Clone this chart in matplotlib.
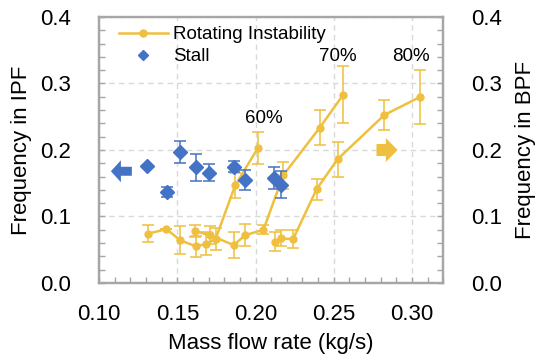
import matplotlib.pyplot as plt
import matplotlib.patches as mpatches
from matplotlib.lines import Line2D
from matplotlib.ticker import MultipleLocator

plt.rcParams['font.family'] = ['Liberation Sans', 'DejaVu Sans']

# Rotating instability, 60% speed line
ri60_x = [0.131, 0.143, 0.152, 0.162, 0.1686, 0.1744, 0.187, 0.2015]
ri60_y = [0.074, 0.081, 0.064, 0.055, 0.059, 0.066, 0.147, 0.203]
ri60_e = [0.013, 0.0, 0.021, 0.016, 0.017, 0.016, 0.019, 0.024]

# Rotating instability, 70% speed line
ri70_x = [0.1612, 0.1707, 0.186, 0.1934, 0.205, 0.2177, 0.241, 0.256]
ri70_y = [0.078, 0.072, 0.057, 0.072, 0.080, 0.162, 0.2335, 0.283]
ri70_e = [0.009, 0.014, 0.019, 0.017, 0.007, 0.020, 0.026, 0.043]

# Rotating instability, 80% speed line
ri80_x = [0.2125, 0.216, 0.224, 0.239, 0.2524, 0.2823, 0.3053]
ri80_y = [0.062, 0.067, 0.066, 0.141, 0.186, 0.2526, 0.280]
ri80_e = [0.014, 0.012, 0.013, 0.016, 0.026, 0.023, 0.041]

# Stall
stall_x = [0.1306, 0.1434, 0.1515, 0.1618, 0.170, 0.186, 0.193, 0.2117, 0.216]
stall_y = [0.1765, 0.137, 0.197, 0.174, 0.166, 0.175, 0.155, 0.158, 0.148]
stall_e = [0.0, 0.008, 0.017, 0.020, 0.013, 0.008, 0.015, 0.016, 0.020]

speed_labels = ['60%', '70%', '80%']
speed_label_pos = [(0.2051, 0.248), (0.2526, 0.341), (0.2994, 0.341)]

yellow = '#EFC03F'
blue = '#4472C4'
gray = '#A6A6A6'

fig = plt.figure(figsize=(5.36, 3.54), dpi=100)
ax = fig.add_axes([0.185, 0.2006, 0.642, 0.7514])

for xs, ys, es in [(ri60_x, ri60_y, ri60_e), (ri70_x, ri70_y, ri70_e), (ri80_x, ri80_y, ri80_e)]:
    ax.errorbar(xs, ys, yerr=es, color=yellow, linewidth=1.8, marker='o', markersize=5,
                elinewidth=1.1, capsize=4, capthick=1.1, zorder=3)

ax.errorbar(stall_x, stall_y, yerr=stall_e, color=blue, linestyle='none', marker='D',
            markersize=7, elinewidth=1.1, capsize=4, capthick=1.1, zorder=4)

for txt, (tx, ty) in zip(speed_labels, speed_label_pos):
    ax.text(tx, ty, txt, ha='center', va='center', fontsize=13.5)

# block arrows
ax.add_patch(mpatches.FancyArrow(0.1209, 0.168, -0.0134, 0, width=0.0135, head_width=0.033,
                                 head_length=0.0064, length_includes_head=True,
                                 color=blue, linewidth=0, zorder=4))
ax.add_patch(mpatches.FancyArrow(0.2773, 0.200, 0.0135, 0, width=0.018, head_width=0.036,
                                 head_length=0.0075, length_includes_head=True,
                                 color=yellow, linewidth=0, zorder=4))

ax.set_xlim(0.10, 0.32)
ax.set_ylim(0.0, 0.4)
ax.set_xticks([0.10, 0.15, 0.20, 0.25, 0.30])
ax.xaxis.set_minor_locator(MultipleLocator(0.01))
ax.yaxis.set_major_locator(MultipleLocator(0.1))
ax.yaxis.set_minor_locator(MultipleLocator(0.02))
ax.xaxis.set_major_formatter(plt.FormatStrFormatter('%.2f'))
ax.yaxis.set_major_formatter(plt.FormatStrFormatter('%.1f'))
ax.grid(True, which='major', color='#D9D9D9', linestyle=(0, (4, 3)), linewidth=1)
ax.set_axisbelow(True)

ax.set_xlabel('Mass flow rate (kg/s)', fontsize=16, labelpad=6)
ax.set_ylabel('Frequency in IPF', fontsize=16, labelpad=6)

ax2 = ax.twinx()
ax2.set_ylim(0.0, 0.4)
ax2.yaxis.set_major_locator(MultipleLocator(0.1))
ax2.yaxis.set_minor_locator(MultipleLocator(0.02))
ax2.yaxis.set_major_formatter(plt.FormatStrFormatter('%.1f'))
ax2.set_ylabel('Frequency in BPF', fontsize=16, labelpad=9)

for a in (ax, ax2):
    for s in a.spines.values():
        s.set_color(gray)
        s.set_linewidth(1.6)
    a.tick_params(which='both', direction='in', color=gray, length=4, width=1, labelsize=16)
ax.tick_params(axis='x', which='both', pad=15)
ax.tick_params(axis='y', which='both', pad=20)
ax2.tick_params(axis='y', which='both', pad=20)

handles = [Line2D([], [], color=yellow, linewidth=1.8, marker='o', markersize=5),
           Line2D([], [], color=blue, linestyle='none', marker='D', markersize=5.5)]
ax.legend(handles, ['Rotating Instability', 'Stall'], loc='upper left',
          bbox_to_anchor=(0.03, 1.0), frameon=False, fontsize=13.5,
          handlelength=2.6, handletextpad=0.3, labelspacing=0.25, borderpad=0.3,
          borderaxespad=0.2, numpoints=1)

fig.savefig('out.png', dpi=100)
